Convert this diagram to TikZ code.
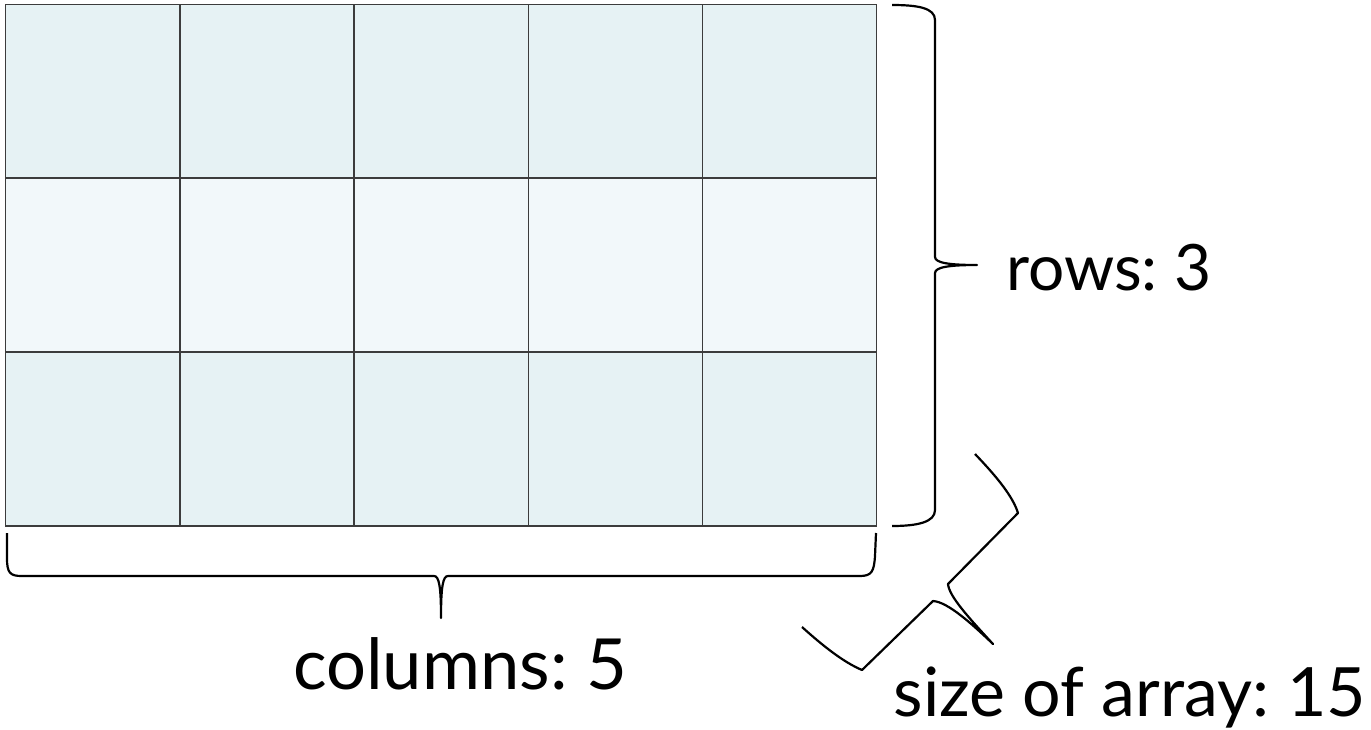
\documentclass[tikz,border=0pt]{standalone}
\usepackage{fontspec}
\setmainfont{Lato}
\definecolor{cellA}{HTML}{E6F2F4}
\definecolor{cellB}{HTML}{F2F8FA}
\definecolor{gridline}{HTML}{3C3C3C}
\tikzset{
  cell/.style={draw=gridline, line width=1.3pt, minimum width=174.2pt, minimum height=173.9pt, inner sep=0pt, anchor=north west},
  brace/.style={draw=black, line width=2.2pt, line join=round},
  label/.style={anchor=base, inner sep=0pt},
}
\begin{document}
\begin{tikzpicture}[x=1pt, y=-1pt]
  \useasboundingbox (0,0) rectangle (1371,729);
  % 3 x 5 array of cells
  \foreach \r/\col in {0/cellA, 1/cellB, 2/cellA} {
    \foreach \c in {0,...,4} {
      \node[cell, fill=\col] (cell-\r-\c) at ({5+174.2*\c}, {3.5+173.9*\r}) {};
    }
  }
  % brace for the rows
  \draw[brace] (892,5) .. controls (918,5) and (935,8) .. (935,20) -- (935,257)
    .. controls (935,263) and (950,265) .. (977,265)
    .. controls (950,265) and (935,267) .. (935,273) -- (935,510)
    .. controls (935,522) and (918,526) .. (892,526);
  % brace for the columns
  \draw[brace] (7,533) -- (7,558) .. controls (7,573) and (10,576) .. (22,576) -- (434,576)
    .. controls (439,576) and (441,586) .. (441,618)
    .. controls (441,586) and (443,576) .. (448,576) -- (860,576)
    .. controls (872,576) and (874,571) .. (875,556) -- (876,533);
  % diagonal brace for the total size
  \draw[brace] (975,454) .. controls (998,478) and (1013,497) .. (1018,513) -- (948,584)
    .. controls (949,596) and (968,617) .. (993,644)
    .. controls (972,624) and (948,602) .. (933,601) -- (862,670)
    .. controls (843,662) and (822,645) .. (802,627);
  % labels
  \node[label, font=\fontsize{64}{70}\selectfont] (rows) at (1109,290) {rows:\hspace{-0.08em} 3};
  \node[label, font=\fontsize{70.5}{76}\selectfont] (cols) at (460,689) {columns:\hspace{-0.08em} 5};
  \node[label, font=\fontsize{68}{74}\selectfont] (size) at (1130,716) {size of array:\hspace{-0.08em} 15};
\end{tikzpicture}
\end{document}
